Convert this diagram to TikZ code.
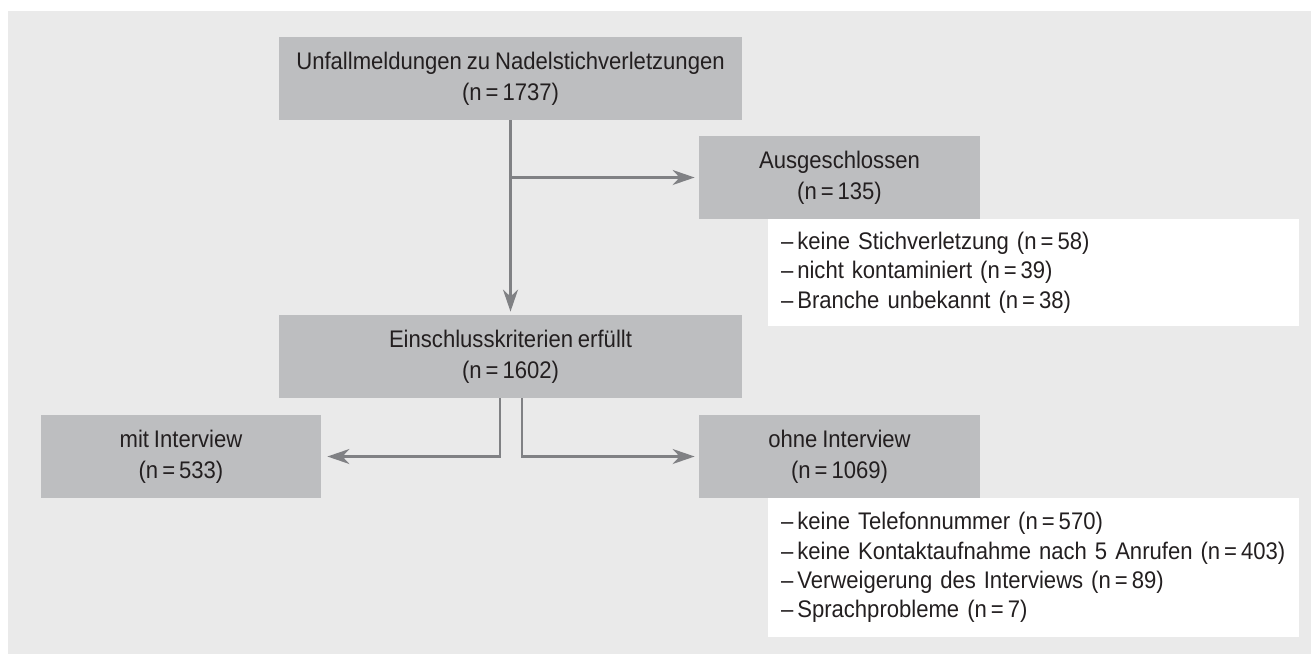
\documentclass[tikz,border=0pt]{standalone}
\usepackage{fontspec}
\setmainfont{Liberation Sans}[FakeStretch=0.92,WordSpace=0.8]
\usetikzlibrary{arrows.meta}
\definecolor{bgc}{HTML}{EAEAEA}
\definecolor{boxc}{HTML}{BDBEC0}
\definecolor{linec}{HTML}{808184}
\definecolor{txtc}{HTML}{231F20}
\tikzset{
  gbox/.style={fill=boxc, draw=none, align=center, inner sep=0pt, minimum height=41.5pt,
    text=txtc, font=\fontsize{12}{15.5}\selectfont},
  wbox/.style={fill=white, draw=none, align=left, inner xsep=6.5pt, inner ysep=0pt,
    text width=252.5pt, text=txtc, font=\fontsize{12}{14.7}\selectfont},
  arr/.style={draw=linec, line width=1.1pt, -{Stealth[length=11pt,width=7.5pt,inset=3.5pt]}, shorten >=2pt}
}
\begin{document}
\begin{tikzpicture}[x=0.5pt,y=-0.5pt]
\useasboundingbox (0,0) rectangle (1311,654);
\fill[white] (0,0) rectangle (1311,654);
\fill[bgc] (8,11) rectangle (1311,654);

\node[gbox, minimum width=231.5pt] (top) at (510.5,78.5) {Unfallmeldungen zu Nadelstichverletzungen\\(n\,=\,1737)};
\node[gbox, minimum width=140.5pt] (aus) at (839.5,177.5) {Ausgeschlossen\\(n\,=\,135)};
\node[wbox, minimum height=53.5pt] (ausl) at (1033.5,272.5) {–\,keine Stichverletzung (n\,=\,58)\\–\,nicht kontaminiert (n\,=\,39)\\–\,Branche unbekannt (n\,=\,38)};
\node[gbox, minimum width=231.5pt] (ein) at (510.5,356.5) {Einschlusskriterien erfüllt\\(n\,=\,1602)};
\node[gbox, minimum width=140pt] (mit) at (181,456.5) {mit Interview\\(n\,=\,533)};
\node[gbox, minimum width=140.5pt] (ohne) at (839.5,456.5) {ohne Interview\\(n\,=\,1069)};
\node[wbox, minimum height=69.5pt] (ohnel) at (1033.5,567.5) {–\,keine Telefonnummer (n\,=\,570)\\–\,keine Kontaktaufnahme nach 5 Anrufen (n\,=\,403)\\–\,Verweigerung des Interviews (n\,=\,89)\\–\,Sprachprobleme (n\,=\,7)};

\draw[arr, shorten >=1.5pt] (top.south) -- (ein.north);
\draw[arr] (top.south |- aus.west) -- (aus.west);
\draw[arr, shorten >=3pt] ([xshift=-5.25pt]ein.south) |- (mit.east);
\draw[arr] ([xshift=5.75pt]ein.south) |- (ohne.west);
\end{tikzpicture}
\end{document}
